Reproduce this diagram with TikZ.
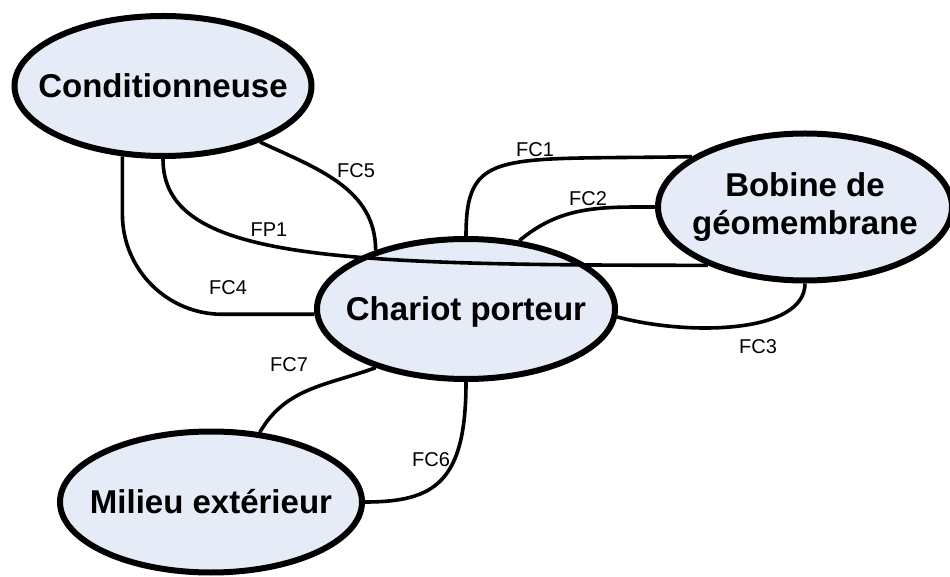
\documentclass[tikz,border=0pt]{standalone}
\usepackage{fontspec}
\setmainfont{Liberation Sans}
\usetikzlibrary{shapes.geometric}
\definecolor{fondbleu}{RGB}{230,236,247}
\tikzset{%
  bloc/.style = {ellipse,draw,line width=6pt,fill=fondbleu,
        inner xsep=-30pt,align=center,
        font=\fontsize{33}{38}\selectfont\bfseries},
  lien/.style = {line width=3.6pt},
  etiq/.style = {font=\fontsize{20}{24}\selectfont}
}

\begin{document}
\begin{tikzpicture}[x=1pt,y=1pt]
    \useasboundingbox (0,0) rectangle (950,576);
    \node[bloc,minimum width=297pt,minimum height=140pt] (cond) at (163,490) {Conditionneuse};
    \node[bloc,minimum width=298pt,minimum height=140pt,text depth=0pt] (chariot) at (466,267) {Chariot porteur};
    \node[bloc,minimum width=294pt,minimum height=147pt] (bobine) at (805,369) {Bobine de\\géomembrane};
    \node[bloc,minimum width=302pt,minimum height=141pt] (milieu) at (211,74) {Milieu extérieur};

    % liaisons
    \draw[lien] (cond.-30) to[out=-25,in=90] (chariot.147);
    \draw[lien,rounded corners=100pt] (cond.-120) |- (chariot.182);
    \draw[lien] (chariot.north) to[out=90,in=181,out distance=88pt,in distance=193pt] (bobine.156);
    \draw[lien] (chariot.52) to[out=40,in=180] (bobine.west);
    \draw[lien] (chariot.-3) to[out=-15,in=-90,in distance=50pt] (bobine.south);
    \draw[lien] (chariot.213) to[out=200,in=60] (milieu.55);
    \draw[lien] (chariot.south) to[out=-90,in=0,out distance=100pt,in distance=70pt] (milieu.east);
    \draw[lien] (cond.south) to[out=-90,in=180,out distance=100pt,in distance=380pt] (bobine.211);

    % etiquettes
    \node[etiq] (fc5) at (356,405) {FC5};
    \node[etiq] (fp1) at (269,346) {FP1};
    \node[etiq] (fc4) at (228,288) {FC4};
    \node[etiq] (fc1) at (535,426) {FC1};
    \node[etiq] (fc2) at (588,377) {FC2};
    \node[etiq] (fc3) at (758,229) {FC3};
    \node[etiq] (fc7) at (289,211) {FC7};
    \node[etiq] (fc6) at (431,116) {FC6};
\end{tikzpicture}
\end{document}
